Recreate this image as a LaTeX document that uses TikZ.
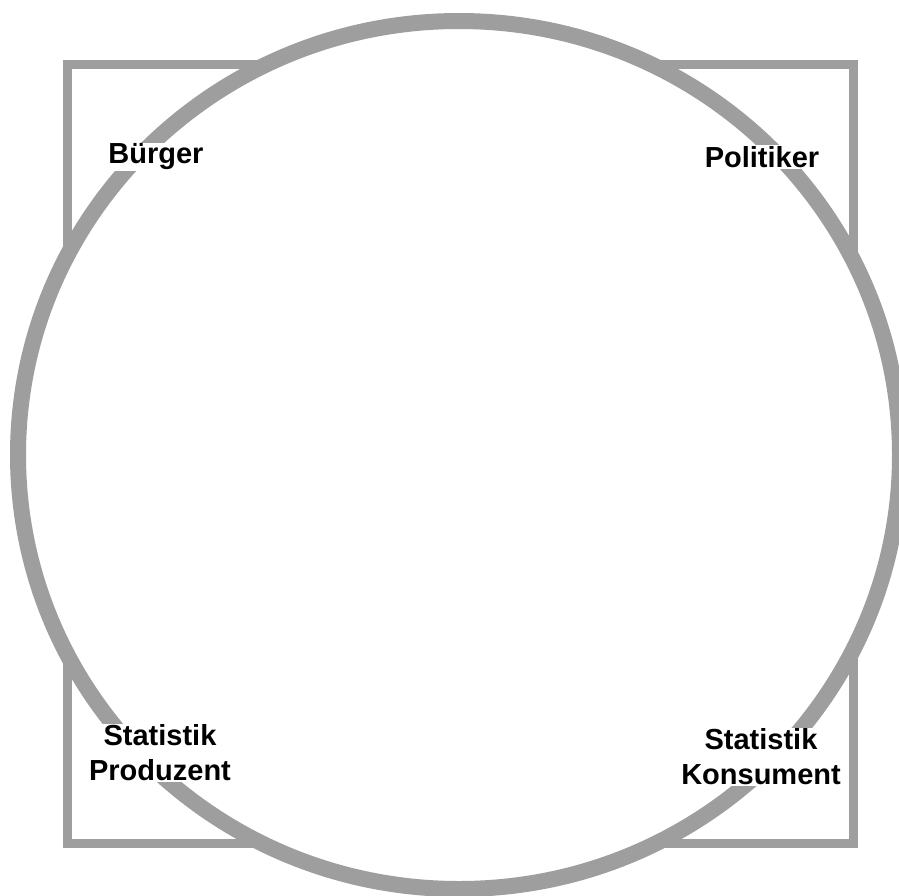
\documentclass[tikz,border=0pt]{standalone}
\usepackage{fontspec}
\setmainfont{Liberation Sans}
\begin{document}
\begin{tikzpicture}[x=1pt,y=-1pt,
  band/.style={draw=black!38},
  lbl/.style={fill=white,inner sep=1pt,font=\fontsize{29}{35}\selectfont\bfseries,align=center}]
\useasboundingbox (0,0) rectangle (899,895);
\draw[band,line width=9pt] (67,64) rectangle (853,843);
\draw[band,fill=white,line width=16pt] (459,455) ellipse[x radius=441,y radius=434];
\node[lbl] (buerger) at (156,157) {Bürger};
\node[lbl] (politiker) at (762,157) {Politiker};
\node[lbl] (produzent) at (160,753) {Statistik\\Produzent};
\node[lbl] (konsument) at (761,757) {Statistik\\Konsument};
\end{tikzpicture}
\end{document}
